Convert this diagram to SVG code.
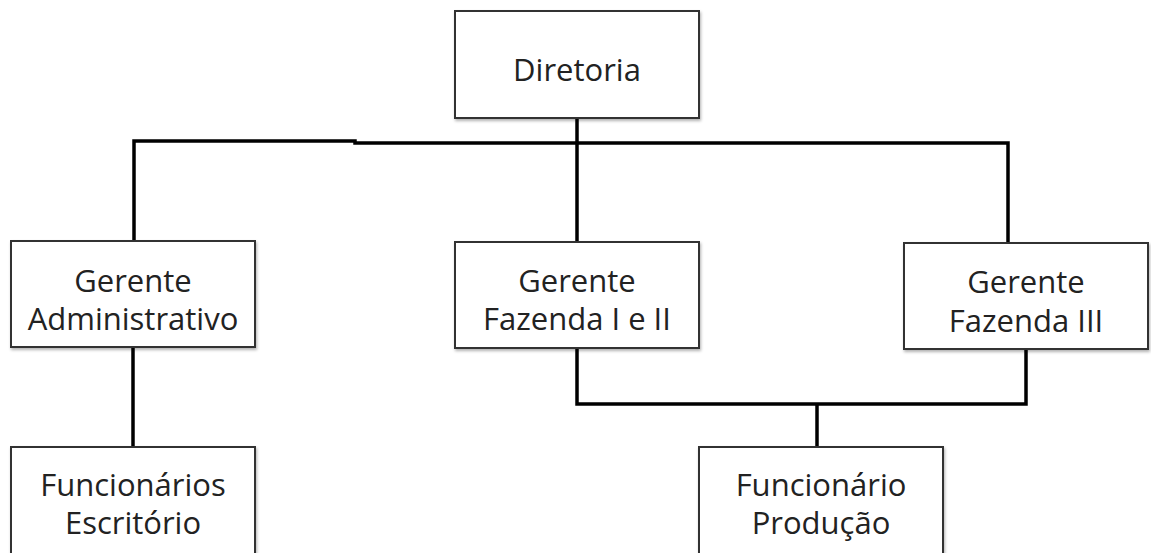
<svg xmlns="http://www.w3.org/2000/svg" width="1151" height="553" viewBox="0 0 1151 553">
<defs>
<filter id="sh" x="-10%" y="-10%" width="120%" height="130%">
<feDropShadow dx="1" dy="2" stdDeviation="1.5" flood-color="#000" flood-opacity="0.3"/>
</filter>
</defs>
<style>
.box{fill:#fff;stroke:#333;stroke-width:2;filter:url(#sh)}
.t{font-family:"Open Sans","DejaVu Sans",sans-serif;font-size:31px;fill:#222;text-anchor:middle}
.c{fill:none;stroke:#000;stroke-width:3.5}
</style>
<rect width="1151" height="553" fill="#fff"/>
<g id="connectors">
<path class="c" d="M577 118 V242"/>
<path class="c" d="M134 242 V141 H355 V143 H1008 V242"/>
<path class="c" d="M133 347 V447"/>
<path class="c" d="M577 348 V404 H1026 V349"/>
<path class="c" d="M817 404 V447"/>
</g>
<g id="diretoria">
<rect class="box" x="455" y="11" width="244" height="107"/>
<text class="t" x="577" y="81">Diretoria</text>
</g>
<g id="gerente-adm">
<rect class="box" x="11" y="241" width="244" height="106"/>
<text class="t" x="133" y="292">Gerente</text>
<text class="t" x="133" y="330">Administrativo</text>
</g>
<g id="gerente-faz12">
<rect class="box" x="455" y="242" width="244" height="106"/>
<text class="t" x="577" y="292">Gerente</text>
<text class="t" x="577" y="330">Fazenda I e II</text>
</g>
<g id="gerente-faz3">
<rect class="box" x="904" y="243" width="244" height="106"/>
<text class="t" x="1026" y="293">Gerente</text>
<text class="t" x="1026" y="332">Fazenda III</text>
</g>
<g id="func-escritorio">
<rect class="box" x="11" y="447" width="244" height="120"/>
<text class="t" x="133" y="496">Funcionários</text>
<text class="t" x="133" y="534">Escritório</text>
</g>
<g id="func-producao">
<rect class="box" x="699" y="447" width="244" height="120"/>
<text class="t" x="821" y="496">Funcionário</text>
<text class="t" x="821" y="534">Produção</text>
</g>
</svg>
